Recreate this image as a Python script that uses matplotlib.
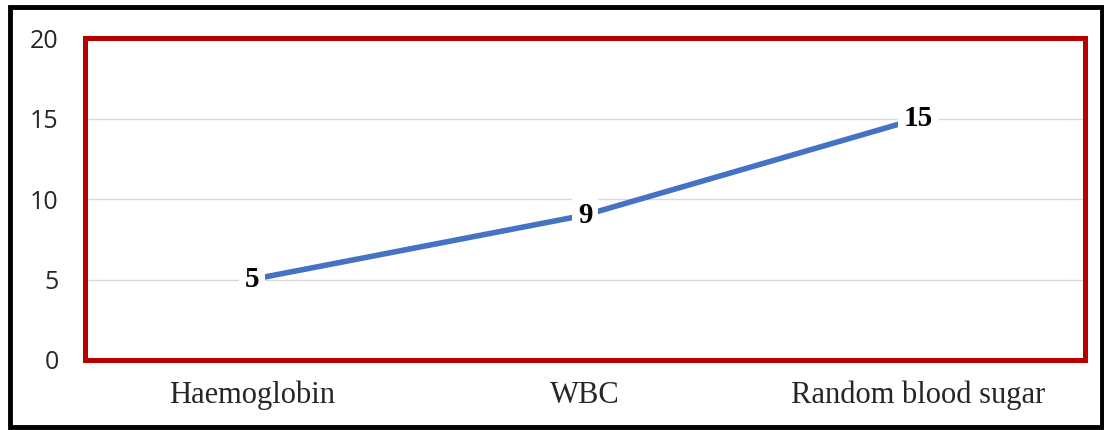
import matplotlib.pyplot as plt
from matplotlib.patches import Rectangle

categories = ["Haemoglobin", "WBC", "Random blood sugar"]
values = [5, 9, 15]
yticks = [0, 5, 10, 15, 20]

fig = plt.figure(figsize=(11.04, 4.30), dpi=100)
ax = fig.add_axes([0.077, 0.1628, 0.9058, 0.7488])

x = list(range(len(categories)))
ax.plot(x, values, color="#4472C4", linewidth=4, solid_capstyle="butt", zorder=3)
for xi, v in zip(x, values):
    ax.text(xi, v, str(v), ha="center", va="center", fontsize=21, fontweight="bold",
            family="Liberation Serif", zorder=4,
            bbox=dict(boxstyle="square,pad=0.2", fc="white", ec="none"))

ax.set_xlim(-0.5, 2.5)
ax.set_ylim(0, 20)
ax.set_yticks(yticks)
ax.set_xticks(x)
ax.set_xticklabels(categories, family="Liberation Serif", fontsize=22, color="#262626")
ax.tick_params(axis="y", length=0, pad=19, labelsize=18, labelcolor="#262626")
ax.tick_params(axis="x", length=0, pad=15)
for lab in ax.get_yticklabels():
    lab.set_family("Open Sans")
ax.grid(axis="y", color="#D9D9D9", linewidth=1)
ax.set_axisbelow(True)
for s in ax.spines.values():
    s.set_color("#B80000")
    s.set_linewidth(3.6)

fig.patches.append(Rectangle((10 / 1104, 3 / 430), 1092 / 1104, 420 / 430,
                             transform=fig.transFigure, fill=False,
                             edgecolor="black", linewidth=3.5))

fig.savefig("out.png", dpi=100)
